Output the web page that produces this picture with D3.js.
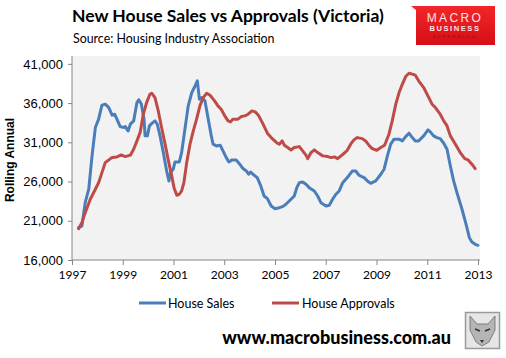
<!DOCTYPE html>
<html><head><meta charset="utf-8">
<script src="https://cdn.jsdelivr.net/npm/d3@7"></script>
<style>html,body{margin:0;padding:0;background:#fff}svg{display:block}</style>
</head><body>
<script>
// ---- data ----
const salesYears = [1997.26,1997.39,1997.52,1997.66,1997.79,1997.92,1998.05,1998.18,1998.31,1998.45,1998.58,1998.68,1998.77,1998.90,1999.04,1999.10,1999.21,1999.30,1999.43,1999.56,1999.63,1999.73,1999.84,1999.88,1999.97,2000.05,2000.18,2000.27,2000.36,2000.47,2000.60,2000.73,2000.82,2000.89,2000.99,2001.06,2001.23,2001.32,2001.45,2001.58,2001.72,2001.82,2001.94,2002.02,2002.11,2002.24,2002.37,2002.49,2002.56,2002.69,2002.84,2002.95,2003.08,2003.18,2003.31,2003.47,2003.61,2003.74,2003.87,2003.96,2004.04,2004.13,2004.30,2004.44,2004.57,2004.70,2004.85,2004.99,2005.17,2005.30,2005.43,2005.63,2005.76,2005.86,2005.96,2006.09,2006.22,2006.35,2006.55,2006.68,2006.81,2007.01,2007.14,2007.27,2007.40,2007.53,2007.67,2007.85,2008.05,2008.18,2008.31,2008.51,2008.64,2008.77,2008.97,2009.17,2009.30,2009.43,2009.56,2009.69,2009.89,2010.02,2010.15,2010.28,2010.41,2010.53,2010.66,2010.86,2011.03,2011.12,2011.25,2011.38,2011.51,2011.65,2011.78,2011.91,2012.04,2012.17,2012.37,2012.53,2012.66,2012.76,2012.89,2013.00];
const salesValues = [20120,20340,23310,25020,29270,32880,33950,35730,35860,35430,34460,34580,33950,33000,32880,33000,32450,33310,33730,36060,36410,35900,33950,31820,31820,33090,33510,33730,33310,31820,29690,27350,26080,27140,27570,28500,28500,29690,32670,35640,37340,37980,38830,36500,36700,36280,33950,31820,30760,30540,30630,29900,29050,28500,28760,28760,28210,27650,27350,26930,27220,26930,26500,25440,24160,23820,22890,22540,22670,22800,23100,23740,24160,25220,25860,25950,25660,25220,24800,24160,23310,22890,22980,23740,24380,24800,25860,26500,27350,27350,26800,26500,26080,25780,26080,26930,27570,29270,30760,31400,31400,31180,31730,32160,31600,31180,31180,31820,32580,32330,31820,31600,31470,30880,30120,27990,26080,24580,22470,20550,18840,18300,18000,17870];

const approvalYears = [1997.26,1997.39,1997.52,1997.72,1997.92,1998.05,1998.18,1998.31,1998.45,1998.58,1998.77,1998.94,1999.10,1999.30,1999.43,1999.56,1999.69,1999.81,1999.94,2000.07,2000.14,2000.27,2000.40,2000.53,2000.67,2000.80,2000.93,2001.02,2001.13,2001.23,2001.32,2001.41,2001.52,2001.65,2001.78,2001.91,2002.04,2002.17,2002.31,2002.44,2002.62,2002.75,2002.88,2003.02,2003.15,2003.25,2003.34,2003.54,2003.67,2003.81,2003.94,2004.09,2004.22,2004.36,2004.53,2004.70,2004.85,2004.99,2005.09,2005.17,2005.28,2005.37,2005.50,2005.63,2005.76,2005.96,2006.09,2006.22,2006.29,2006.42,2006.55,2006.68,2006.88,2007.08,2007.21,2007.34,2007.47,2007.60,2007.76,2007.85,2007.98,2008.11,2008.24,2008.44,2008.57,2008.70,2008.83,2009.01,2009.17,2009.32,2009.49,2009.62,2009.76,2009.89,2010.02,2010.15,2010.28,2010.41,2010.53,2010.66,2010.86,2011.06,2011.19,2011.32,2011.51,2011.65,2011.78,2011.91,2012.11,2012.30,2012.48,2012.61,2012.76,2012.89];
const approvalValues = [19990,20760,22030,23740,25020,25860,27140,28410,28760,29050,29140,29390,29180,29360,30120,31180,32300,34580,36060,37130,37260,36700,35000,32880,30760,28630,26720,25220,24250,24380,24800,25860,28410,30760,32450,33950,35640,36700,37260,37000,36280,35640,35220,34370,33730,33600,33950,33950,34280,34370,34580,35000,34880,34370,33310,32160,31600,31180,30880,30760,31180,30630,30330,30030,30330,30450,29900,29360,28920,29690,30030,29690,29270,29180,29050,29140,28920,29270,29700,29990,30760,31310,31600,31470,31180,30630,30200,29990,30330,30630,32030,33730,35860,37340,38410,39380,39810,39690,39560,38830,37980,36700,35860,35430,34580,33730,33090,31820,30760,29690,28920,28760,28210,27650];

const seriesNames = ["House Sales", "House Approvals"];
const seriesColors = ["#4a7ebb", "#be4b48"];
const yTicks = [16000, 21000, 26000, 31000, 36000, 41000];
const xTicks = [1997, 1999, 2001, 2003, 2005, 2007, 2009, 2011, 2013];
const titleText = "New House Sales vs Approvals (Victoria)";
const subtitleText = "Source: Housing Industry Association";
const yAxisTitle = "Rolling Annual";
const footerText = "www.macrobusiness.com.au";

// ---- layout ----
const W = 506, H = 358;
const plot = {left: 72, right: 480, top: 56, bottom: 260};

const svg = d3.select("body").append("svg").attr("width", W).attr("height", H);

const x = d3.scaleLinear().domain([1997, 2013]).range([plot.left, 478]);
const y = d3.scaleLinear().domain([16000, 42000]).range([plot.bottom, plot.top]);

// plot background
svg.append("rect").attr("x", plot.left).attr("y", plot.top)
  .attr("width", plot.right - plot.left).attr("height", plot.bottom - plot.top)
  .attr("fill", "#f2f2f2");

// titles
svg.append("text").attr("x", 72).attr("y", 22).text(titleText)
  .attr("font-family", "Lato, 'Open Sans', sans-serif").attr("font-weight", "bold")
  .attr("font-size", 17.5).attr("fill", "#000");
svg.append("text").attr("x", 73).attr("y", 43).text(subtitleText)
  .attr("font-family", "Lato, 'Open Sans', sans-serif")
  .attr("font-size", 12.4).attr("fill", "#000");

// logo
const defs = svg.append("defs");
const lg = defs.append("linearGradient").attr("id", "logoGrad").attr("x1", 0).attr("y1", 0).attr("x2", 0).attr("y2", 1);
lg.append("stop").attr("offset", "0%").attr("stop-color", "#f2262b");
lg.append("stop").attr("offset", "100%").attr("stop-color", "#d50f16");
svg.append("path").attr("d", "M411,6 L495,6 L495,45 L416,45 L416,10 Z").attr("fill", "url(#logoGrad)");
svg.append("text").attr("x", 455).attr("y", 21.5).attr("text-anchor", "middle").text("MACRO")
  .attr("font-family", "'Liberation Sans', Arial, sans-serif").attr("font-size", 12)
  .attr("letter-spacing", 2.4).attr("fill", "#fbe3e3");
svg.append("text").attr("x", 455).attr("y", 31).attr("text-anchor", "middle").text("BUSINESS")
  .attr("font-family", "'Liberation Sans', Arial, sans-serif").attr("font-size", 7.5).attr("font-weight", "bold")
  .attr("letter-spacing", 1.6).attr("fill", "#fbe3e3");
svg.append("text").attr("x", 455).attr("y", 38).attr("text-anchor", "middle").text("SUPERBLOG")
  .attr("font-family", "'Liberation Sans', Arial, sans-serif").attr("font-size", 4)
  .attr("letter-spacing", 2.2).attr("fill", "#8a0c10");

// axes
const yAxis = d3.axisLeft(y).tickValues(yTicks).tickSize(4).tickSizeOuter(0).tickFormat(d3.format(","));
const gy = svg.append("g").attr("transform", `translate(${plot.left},0)`).call(yAxis);
gy.select(".domain").attr("d", `M0,${plot.top}V${plot.bottom}`);
gy.selectAll("text").attr("x", -9).attr("font-family", "'Liberation Sans', Arial, sans-serif")
  .attr("font-size", 13).attr("fill", "#000");

const xAxis = d3.axisBottom(x).tickValues(xTicks).tickSize(5).tickSizeOuter(0).tickFormat(d3.format("d"));
const gx = svg.append("g").attr("transform", `translate(0,${plot.bottom})`).call(xAxis);
gx.select(".domain").attr("d", `M${plot.left},0H${plot.right}`);
gx.selectAll("text").attr("y", 10).attr("font-family", "Lato, 'Open Sans', sans-serif")
  .attr("font-size", 12).attr("fill", "#000");

svg.selectAll(".domain, .tick line").attr("stroke", "#868686");

svg.append("text").attr("transform", `translate(14,${(plot.top + plot.bottom) / 2 + 2}) rotate(-90)`)
  .attr("text-anchor", "middle").text(yAxisTitle)
  .attr("font-family", "'Liberation Sans', Arial, sans-serif").attr("font-weight", "bold")
  .attr("font-size", 12).attr("fill", "#000");

// lines
const line = d3.line().x(d => x(d[0])).y(d => y(d[1]));
const sales = salesYears.map((v, i) => [v, salesValues[i]]);
const approvals = approvalYears.map((v, i) => [v, approvalValues[i]]);
[sales, approvals].forEach((data, i) => {
  svg.append("path").datum(data).attr("d", line)
    .attr("fill", "none").attr("stroke", seriesColors[i]).attr("stroke-width", 3)
    .attr("stroke-linejoin", "round").attr("stroke-linecap", "round");
});

// legend
const legendPos = [{x: 139, tx: 168}, {x: 272, tx: 302}];
seriesNames.forEach((name, i) => {
  svg.append("line").attr("x1", legendPos[i].x).attr("x2", legendPos[i].x + 27)
    .attr("y1", 303).attr("y2", 303).attr("stroke", seriesColors[i]).attr("stroke-width", 3);
  svg.append("text").attr("x", legendPos[i].tx).attr("y", 307.5).text(name)
    .attr("font-family", "Lato, 'Open Sans', sans-serif").attr("font-size", 12.5).attr("fill", "#000");
});

// footer
svg.append("text").attr("x", 451).attr("y", 344).attr("text-anchor", "end").text(footerText)
  .attr("font-family", "Lato, 'Open Sans', sans-serif").attr("font-weight", "900")
  .attr("font-size", 18).attr("fill", "#000");

// fox badge
const fox = svg.append("g").attr("transform", "translate(465,312)");
fox.append("rect").attr("x", 0.5).attr("y", 0.5).attr("width", 34).attr("height", 36)
  .attr("fill", "#e6e6e6").attr("stroke", "#9a9a9a").attr("stroke-width", 1.5);
fox.append("path").attr("d", "M5,4 L12,12 L23,12 L30,4 L30,18 L24,30 L17,34 L11,30 L5,18 Z")
  .attr("fill", "#b5b5b5").attr("stroke", "#6a6a6a").attr("stroke-width", 0.8);
fox.append("path").attr("d", "M10,17 L15,19 M20,19 L25,17").attr("stroke", "#333").attr("stroke-width", 1.5);
fox.append("path").attr("d", "M15,28 L17,31 L19,28 Z").attr("fill", "#333");
</script>
</body></html>
